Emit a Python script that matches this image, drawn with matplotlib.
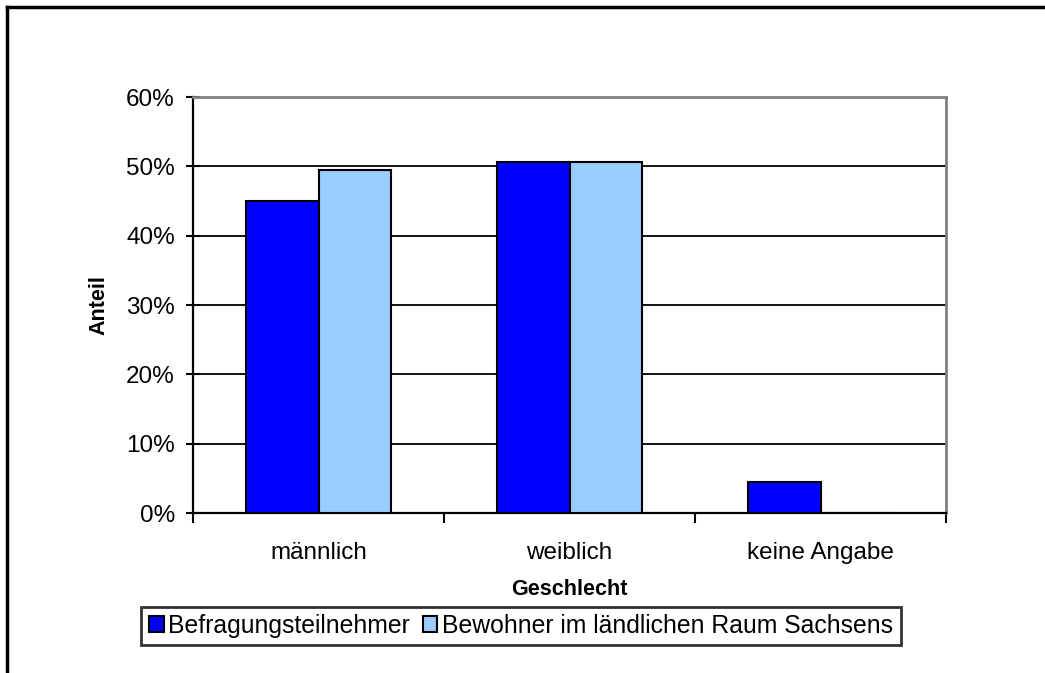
import numpy as np
import matplotlib
matplotlib.use("Agg")
from matplotlib import pyplot as plt
from matplotlib.lines import Line2D
from matplotlib.ticker import PercentFormatter

# data (shares in percent)
categories = ["männlich", "weiblich", "keine Angabe"]
teilnehmer = [45.0, 50.6, 4.4]
bewohner = [49.4, 50.6, 0.0]
series_names = ["Befragungsteilnehmer", "Bewohner im ländlichen Raum Sachsens"]
y_ticks = [0, 10, 20, 30, 40, 50, 60]

plt.rcParams["font.family"] = ["Liberation Sans", "DejaVu Sans"]

fig = plt.figure(figsize=(10.45, 6.73), dpi=100)
ax = fig.add_axes([193 / 1045, 1 - 513 / 673, 753 / 1045, 416 / 673])

x = np.arange(len(categories))
width = 0.29
ax.bar(x - width / 2, teilnehmer, width, color="#0000FF", edgecolor="black",
       linewidth=1.5, label=series_names[0], zorder=3)
ax.bar(x + width / 2, bewohner, width, color="#99CCFF", edgecolor="black",
       linewidth=1.5, label=series_names[1], zorder=3)

ax.set_xlim(-0.5, 2.5)
ax.set_ylim(0, 60)
ax.set_yticks(y_ticks)
ax.yaxis.set_major_formatter(PercentFormatter(decimals=0))
ax.yaxis.grid(True, color="black", linewidth=1.3, zorder=0)
ax.set_axisbelow(True)

# category boundaries get the ticks, labels sit in the middle
ax.set_xticks([-0.5, 0.5, 1.5, 2.5])
ax.set_xticklabels([])
ax.set_xticks(x, minor=True)
ax.set_xticklabels(categories, minor=True, fontsize=17.5)
ax.tick_params(axis="x", which="major", direction="out", length=7, width=1.5)
ax.tick_params(axis="x", which="minor", length=0, pad=21)
ax.tick_params(axis="y", direction="inout", length=10, width=1.5, labelsize=17.5, pad=8)

for side in ["left", "bottom"]:
    ax.spines[side].set_linewidth(1.6)
    ax.spines[side].set_color("black")
for side in ["top", "right"]:
    ax.spines[side].set_linewidth(2)
    ax.spines[side].set_color("#808080")

ax.set_xlabel("Geschlecht", fontsize=15.5, fontweight="bold", labelpad=11)
ax.set_ylabel("Anteil", fontsize=15.5, fontweight="bold", labelpad=12)

leg = fig.legend(loc="center", bbox_to_anchor=(521 / 1045, 1 - 626 / 673), ncol=2,
                 fontsize=17.8, frameon=True, fancybox=False, handlelength=0.6,
                 handleheight=0.6, handletextpad=0.2, columnspacing=0.5,
                 borderpad=0.3, edgecolor="black")
leg.get_frame().set_linewidth(2)

# outer chart border (right and bottom lie outside the picture)
fig.add_artist(Line2D([7 / 1045, 7 / 1045], [0, 1 - 7 / 673], transform=fig.transFigure,
                      color="black", linewidth=2.5))
fig.add_artist(Line2D([7 / 1045, 1], [1 - 7 / 673, 1 - 7 / 673], transform=fig.transFigure,
                      color="black", linewidth=2.5))

fig.savefig("out.png", dpi=100, facecolor="white")
